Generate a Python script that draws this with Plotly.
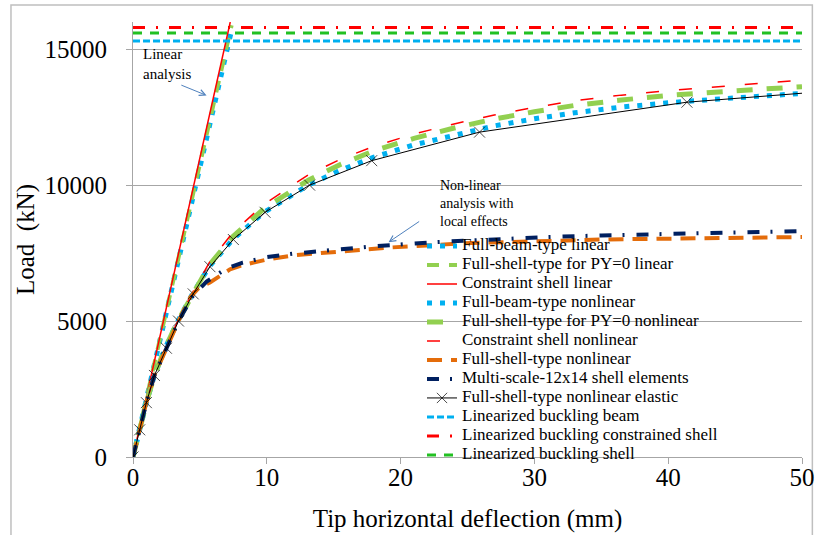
import plotly.graph_objects as go

# ---------------- data ----------------
# Linear analyses: straight lines from the origin
lin_beam_x = [0, 7.42]
lin_beam_y = [0, 15810]
lin_shell_x = [0, 7.37]
lin_shell_y = [0, 15880]
lin_constr_x = [0, 7.27]
lin_constr_y = [0, 16000]

# Non-linear, upper group
nl_x = [0, 0.5, 1.0, 1.6, 2.4, 3.35, 4.45, 5.7, 7.45, 9.8, 13.1, 15.5, 18, 21, 24, 27, 30, 33, 36.5, 40, 45, 50]
nl_beam_y = [0, 1000, 2000, 3000, 4000, 5000, 6000, 7000, 8000, 9000, 10000, 10550, 11030, 11480, 11850, 12180,
             12440, 12660, 12870, 13030, 13210, 13370]
nl_shell_py0_y = [0, 1000, 2000, 3000, 4000, 5000, 6000, 7060, 8100, 9140, 10180, 10760, 11260, 11720, 12100,
                  12430, 12700, 12930, 13130, 13300, 13470, 13620]
nl_constr_y = [0, 1000, 2000, 3000, 4000, 5000, 6050, 7150, 8250, 9300, 10380, 10950, 11430, 11880, 12250, 12580,
               12860, 13100, 13310, 13480, 13680, 13860]

# Full-shell-type nonlinear elastic (markers every ~1000 kN)
el_x = [0, 0.5, 1.0, 1.6, 2.5, 3.4, 4.5, 5.75, 7.5, 9.87, 13.2, 17.84, 25.9, 41.4, 50]
el_y = [0, 1000, 2000, 3000, 4000, 5000, 6000, 7000, 8000, 9000, 10000, 10900, 11950, 13050, 13380]

# Non-linear with local effects, lower group
fs_x = [0, 0.5, 1.0, 1.6, 2.5, 3.4, 4.3, 4.9, 5.75, 6.4, 7.25, 8.2, 10, 12, 15.5, 19.4, 24.7, 30.9, 35, 40, 45, 50]
fs_y = [0, 1000, 2000, 3000, 4000, 5000, 5890, 6210, 6420, 6630, 6900, 7060, 7260, 7420, 7550, 7710, 7860, 7960,
        8000, 8030, 8060, 8090]
ms_x = [0, 0.5, 1.0, 1.6, 2.5, 3.4, 4.5, 5.5, 7.0, 8.2, 10, 12, 15.5, 18.2, 22.4, 26.2, 30.9, 35, 40, 45, 50]
ms_y = [0, 1000, 2000, 3000, 4000, 5000, 5950, 6450, 6940, 7150, 7350, 7480, 7640, 7760, 7900, 8000, 8090, 8150,
        8200, 8250, 8310]

# Linearized buckling loads
buck_x = [0, 50]
buck_beam = 15300
buck_constr = 15800
buck_shell = 15600

x_ticks = [0, 10, 20, 30, 40, 50]
y_ticks = [0, 5000, 10000, 15000]
y_tick_text = ["0", "5000", "10000", "15000"]

# ---------------- styling ----------------
FONT = "Liberation Serif"
LBL = '<span style="font-size:17px">{}</span>'
C_BLUE = "#00B0F0"
C_GREEN = "#92D050"
C_RED = "#FF0000"
C_ORANGE = "#E46C0A"
C_NAVY = "#002060"
C_BGREEN = "#22C022"
GRID = "#A6A6A6"

fig = go.Figure()

def add(x, y, name, color, width, dash, **kw):
    fig.add_trace(go.Scatter(x=x, y=y, mode=kw.pop("mode", "lines"), name=LBL.format(name),
                             line=dict(color=color, width=width, dash=dash), **kw))

add(lin_beam_x, lin_beam_y, "Full-beam-type linear", C_BLUE, 5, "5px,8px")
add(lin_shell_x, lin_shell_y, "Full-shell-type for PY=0 linear", C_GREEN, 4, "12px,10px")
add(lin_constr_x, lin_constr_y, "Constraint shell linear", C_RED, 1.5, "solid")
add(nl_x, nl_beam_y, "Full-beam-type nonlinear", C_BLUE, 5, "5px,8px")
add(nl_x, nl_shell_py0_y, "Full-shell-type for PY=0 nonlinear", C_GREEN, 5, "16px,14px")
add(nl_x, nl_constr_y, "Constraint shell nonlinear", C_RED, 1.5, "13px,20px")
add(fs_x, fs_y, "Full-shell-type nonlinear", C_ORANGE, 4, "15px,9px")
add(ms_x, ms_y, "Multi-scale-12x14 shell elements", C_NAVY, 4, "12px,11px,2px,12px")
add(el_x, el_y, "Full-shell-type nonlinear elastic", "#000000", 1, "solid", mode="lines+markers",
    marker=dict(symbol="x-thin-open", size=[11] * (len(el_x) - 1) + [0], color="#000000",
                line=dict(color="#000000", width=1)))
add(buck_x, [buck_beam] * 2, "Linearized buckling beam", C_BLUE, 3, "7px,3px")
add(buck_x, [buck_constr] * 2, "Linearized buckling constrained shell", C_RED, 3, "12px,11px,2px,11px")
add(buck_x, [buck_shell] * 2, "Linearized buckling shell", C_BGREEN, 3, "9px,8px")

fig.update_layout(
    width=817, height=535,
    margin=dict(l=133, r=15, t=22, b=78, autoexpand=False),
    paper_bgcolor="white", plot_bgcolor="white",
    font=dict(family=FONT, color="#000000", size=25),
    showlegend=True,
    legend=dict(x=0.432, y=0.5185, xanchor="left", yanchor="top", bgcolor="rgba(0,0,0,0)",
                font=dict(family=FONT, size=10.9, color="#000000"), itemwidth=30,
                tracegroupgap=0),
)
fig.update_xaxes(range=[0, 50], tickvals=x_ticks, showgrid=False, zeroline=False, automargin=False,
                 showline=True, linecolor=GRID, linewidth=1,
                 ticks="outside", ticklen=6, tickcolor=GRID, tickwidth=1, ticklabelstandoff=-8,
                 tickfont=dict(family=FONT, size=25),
                 title=dict(text="Tip horizontal deflection (mm)", font=dict(family=FONT, size=25), standoff=19))
fig.update_yaxes(range=[0, 16000], tickvals=y_ticks, ticktext=y_tick_text, showgrid=True, gridcolor=GRID,
                 gridwidth=1, zeroline=False, showline=True, linecolor=GRID, linewidth=1, automargin=False,
                 ticks="outside", ticklen=6, tickcolor=GRID, tickwidth=1, ticklabelstandoff=14,
                 tickfont=dict(family=FONT, size=25),
                 title=dict(text="Load\u00a0 (kN)", font=dict(family=FONT, size=25), standoff=2))

# outer chart frame
fig.add_shape(type="rect", xref="paper", yref="paper", x0=-0.1824, x1=1.0155, y0=-0.2, y1=1.039,
              line=dict(color="#BFBFBF", width=1.5), fillcolor="rgba(0,0,0,0)", layer="below")

# annotations
fig.add_annotation(x=0.6, y=15200, xref="x", yref="y", text="Linear<br>analysis", showarrow=False,
                   xanchor="left", yanchor="top", align="left",
                   font=dict(family=FONT, size=15, color="#000000"))
fig.add_annotation(x=5.5, y=13300, ax=3.5, ay=13700, xref="x", yref="y", axref="x", ayref="y",
                   text="", showarrow=True, arrowhead=5, arrowsize=1.2, arrowwidth=1, arrowcolor="#4F81BD")
fig.add_annotation(x=22.8, y=10330, xref="x", yref="y", text="Non-linear<br>analysis with<br>local effects",
                   showarrow=False, xanchor="left", yanchor="top", align="left",
                   font=dict(family=FONT, size=14, color="#000000"))
fig.add_annotation(x=19.1, y=7900, ax=21.5, ay=8700, xref="x", yref="y", axref="x", ayref="y",
                   text="", showarrow=True, arrowhead=5, arrowsize=1.2, arrowwidth=1, arrowcolor="#4F81BD")

fig.write_html("out.html", config={"displayModeBar": False},
               post_script="document.body.style.margin='0px';")
